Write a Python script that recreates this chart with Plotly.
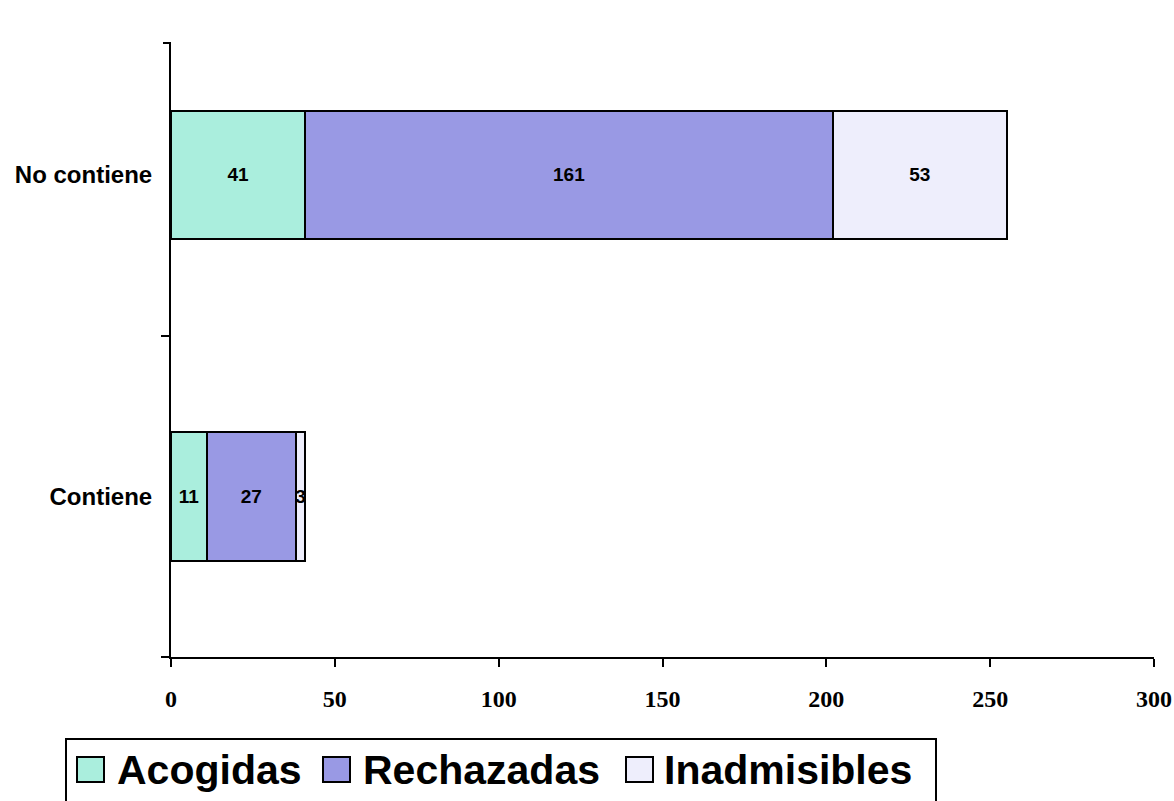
import plotly.graph_objects as go

# Data
categories = ["Contiene", "No contiene"]
series_names = ["Acogidas", "Rechazadas", "Inadmisibles"]
acogidas = [11, 41]
rechazadas = [27, 161]
inadmisibles = [3, 53]
x_ticks = [0, 50, 100, 150, 200, 250, 300]

colors = ["#AAEEDD", "#9999E4", "#EEEEFC"]
values = [acogidas, rechazadas, inadmisibles]

W, H = 1174, 801
ML, MR, MT, MB = 171, 20, 43, 144
PW, PH = W - ML - MR, H - MT - MB


def px(xp):
    return (xp - ML) / PW


def py(yp):
    return (H - MB - yp) / PH


fig = go.Figure()
for name, vals, col in zip(series_names, values, colors):
    fig.add_trace(go.Bar(
        y=categories, x=vals, name=name, orientation="h",
        marker=dict(color=col, line=dict(color="black", width=2)),
        text=[str(v) for v in vals], textposition="inside",
        insidetextanchor="middle", constraintext="none",
        textfont=dict(family="Liberation Sans, Arial", size=19, color="black", weight="bold"),
        showlegend=False, hoverinfo="skip",
    ))

fig.update_layout(
    width=W, height=H, barmode="stack", bargap=0.6,
    margin=dict(l=ML, r=MR, t=MT, b=MB),
    plot_bgcolor="white", paper_bgcolor="white",
    xaxis=dict(
        range=[0, 300], tickvals=x_ticks, showgrid=False, zeroline=False,
        showline=True, linecolor="black", linewidth=2,
        ticks="outside", ticklen=8, tickwidth=2, tickcolor="black",
        ticklabelstandoff=11, automargin=False,
        tickfont=dict(family="Liberation Serif, Times New Roman", size=24, color="black", weight="bold"),
    ),
    yaxis=dict(
        type="category", categoryorder="array", categoryarray=categories,
        range=[-0.5, 1.41], showgrid=False, zeroline=False,
        showline=True, linecolor="black", linewidth=2,
        ticks="outside", ticklen=8, tickwidth=2, tickcolor="black",
        tickson="boundaries", ticklabelstandoff=12, automargin=False,
        tickfont=dict(family="Liberation Sans, Arial", size=24, color="black", weight="bold"),
    ),
)

# tick mark at the top end of the category axis
fig.add_shape(type="line", xref="paper", yref="paper",
              x0=px(ML - 8), x1=px(ML), y0=1, y1=1,
              line=dict(color="black", width=2))

# Legend box with swatches and labels
fig.add_shape(type="rect", xref="paper", yref="paper",
              x0=px(66), x1=px(936), y0=py(739), y1=py(815),
              line=dict(color="black", width=2), fillcolor="white", layer="above")

swatch_x = [77, 323, 626]
label_x = [115, 361, 662]
for name, col, sx, lx in zip(series_names, colors, swatch_x, label_x):
    fig.add_shape(type="rect", xref="paper", yref="paper",
                  x0=px(sx), x1=px(sx + 27), y0=py(782), y1=py(757),
                  line=dict(color="black", width=2), fillcolor=col, layer="above")
    fig.add_annotation(xref="paper", yref="paper", x=px(lx), y=py(770),
                       xanchor="left", yanchor="middle", showarrow=False,
                       text=name,
                       font=dict(family="Liberation Sans, Arial", size=41, color="black", weight="bold"))

fig.write_html("out.html")
